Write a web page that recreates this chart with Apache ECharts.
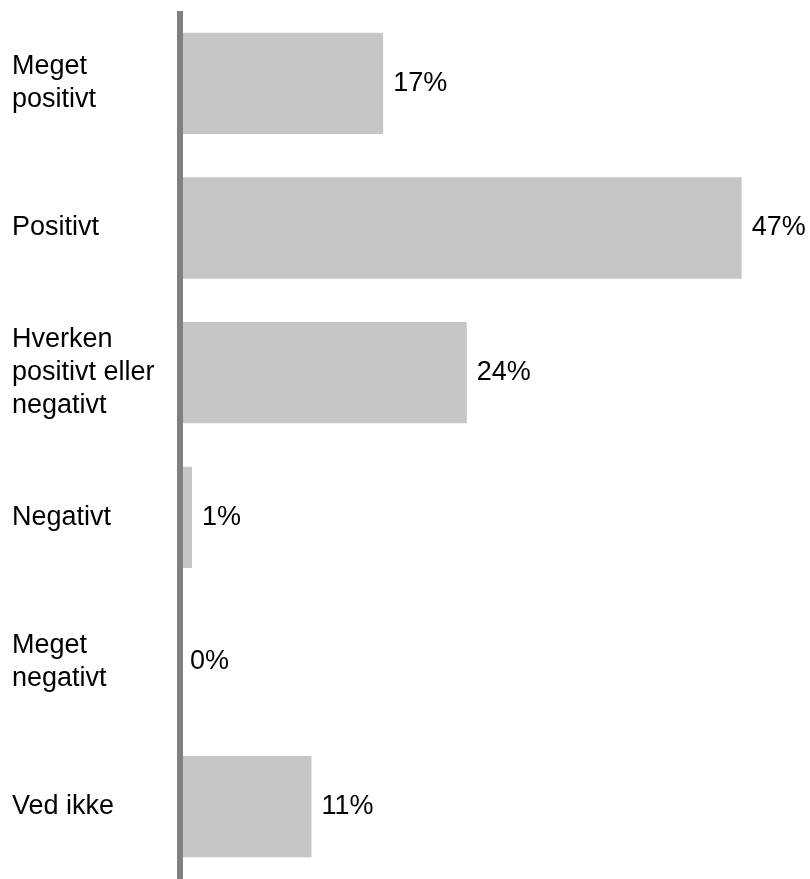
<!DOCTYPE html>
<html>
<head>
<meta charset="utf-8">
<script src="https://cdn.jsdelivr.net/npm/echarts@6/dist/echarts.min.js"></script>
<style>
  html, body { margin: 0; padding: 0; background: #fff; }
  #chart { width: 810px; height: 879px; }
</style>
</head>
<body>
<div id="chart"></div>
<script>
var categories = [
  "Meget\npositivt",
  "Positivt",
  "Hverken\npositivt eller\nnegativt",
  "Negativt",
  "Meget\nnegativt",
  "Ved ikke"
];
var values = [17, 47, 24, 1, 0, 11];

var font = "'Liberation Sans', Arial, sans-serif";
var chart = echarts.init(document.getElementById("chart"));
chart.setOption({
  animation: false,
  grid: {
    left: 180,
    top: 11,
    width: 597.5,
    height: 871
  },
  xAxis: {
    type: "value",
    min: 0,
    max: 50,
    show: false
  },
  yAxis: {
    type: "category",
    inverse: true,
    data: categories,
    z: 5,
    axisLine: {
      lineStyle: { color: "#808080", width: 6, cap: "butt" }
    },
    axisTick: { show: false },
    splitLine: { show: false },
    axisLabel: {
      align: "left",
      margin: 168,
      color: "#000",
      fontSize: 27,
      lineHeight: 33,
      fontFamily: font
    }
  },
  series: [
    {
      type: "bar",
      data: values,
      barCategoryGap: "30%",
      itemStyle: { color: "#c6c6c6" },
      label: {
        show: true,
        position: "right",
        distance: 10,
        color: "#000",
        fontSize: 27,
        fontFamily: font,
        formatter: function (p) {
          return p.value + "%";
        }
      }
    }
  ]
});
</script>
</body>
</html>
